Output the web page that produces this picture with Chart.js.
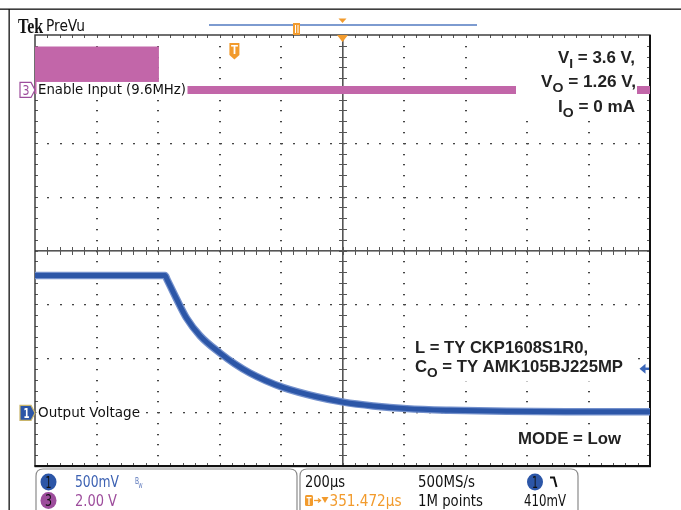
<!DOCTYPE html>
<html><head><meta charset="utf-8">
<script src="https://cdn.jsdelivr.net/npm/chart.js@4.4.1/dist/chart.umd.min.js"></script>
<style>html,body{margin:0;padding:0;background:#fff;}canvas{display:block;}</style>
</head><body>
<canvas id="c" width="681" height="510"></canvas>
<script>
// ---------------- data ----------------
// Channel 1: Output Voltage (V) vs time (µs from left edge of screen)
const ch1TimeUs = [0, 423, 430, 460, 493, 537, 602, 650, 699, 750, 808, 916, 1003, 1100, 1209, 1350, 1534, 1750, 2000];
const ch1Volts  = [1.275, 1.275, 1.235, 1.06, 0.88, 0.715, 0.555, 0.455, 0.37, 0.30, 0.235, 0.15, 0.10, 0.065, 0.04, 0.025, 0.015, 0.011, 0.01];
// Channel 3: Enable Input, 9.6 MHz burst envelope then idle low
const ch3BurstTimeUs = [0, 403];
const ch3BurstHighV  = [1.58, 1.58];
const ch3IdleTimeUs  = [0, 2000];
const ch3IdleV       = [0, 0];
// scope settings
const timePerDivUs = 200, ch1VoltsPerDiv = 0.5, ch3VoltsPerDiv = 2.0;
const ch1GroundDiv = -3.015, ch3GroundDiv = 2.98;
const triggerTimeUs = 648.5, triggerLevelV = 0.41, expansionTimeUs = 1000;
const statusLeft = [["1","500mV"],["3","2.00 V"]];
const statusMid = ["200µs","351.472µs","500MS/s","1M points","410mV"];

const pts = (xs, ys) => xs.map((x, i) => ({x, y: ys[i]}));

const BLUE = '#2c56a7', BLUE_L = '#7390cc', MAG = '#c266a9', PURP = '#9d4d9c', ORANGE = '#f29b2d';
const COND = '"Liberation Sans Narrow","DejaVu Sans Condensed","Arial Narrow",sans-serif';
const BOLD = '"Liberation Sans",Arial,sans-serif';

function fitText(c, txt, x, y, w, font, color, align) {
  c.save(); c.font = font; const m = c.measureText(txt).width; const s = w / m;
  c.translate(align === 'right' ? x - w : (align === 'center' ? x - w / 2 : x), y); c.scale(s, 1);
  c.fillStyle = color; c.textAlign = 'left'; c.textBaseline = 'alphabetic'; c.fillText(txt, 0, 0); c.restore();
}
function rich(c, segs, x, y, w, align, color) {
  const base = 'bold 16.5px ' + BOLD, sub = 'bold 13.5px ' + BOLD;
  c.save(); let tw = 0;
  for (const s of segs) { c.font = s.sub ? sub : base; tw += c.measureText(s.t).width; }
  const sx = w / tw; c.translate(align === 'right' ? x - w : x, y); c.scale(sx, 1);
  c.fillStyle = color; c.textBaseline = 'alphabetic'; c.textAlign = 'left';
  let cx = 0;
  for (const s of segs) { c.font = s.sub ? sub : base; c.fillText(s.t, cx, s.sub ? 5 : 0); cx += c.measureText(s.t).width; }
  c.restore();
}
function rrect(c, x, y, w, h, r) {
  c.beginPath(); c.moveTo(x + r, y); c.lineTo(x + w - r, y); c.quadraticCurveTo(x + w, y, x + w, y + r);
  c.lineTo(x + w, y + h - r); c.quadraticCurveTo(x + w, y + h, x + w - r, y + h); c.lineTo(x + r, y + h);
  c.quadraticCurveTo(x, y + h, x, y + h - r); c.lineTo(x, y + r); c.quadraticCurveTo(x, y, x + r, y); c.closePath();
}

const scope = {
  id: 'scope',
  beforeDraw(chart) {
    const c = chart.ctx; c.save();
    c.fillStyle = '#fff'; c.fillRect(0, 0, chart.width, chart.height);
    c.fillStyle = '#111'; c.fillRect(0, 8.5, chart.width, 1.3); c.fillRect(8.5, 9, 1.3, chart.height - 9);
    c.restore();
  },
  beforeDatasetsDraw(chart) {
    const c = chart.ctx, a = chart.chartArea, X = chart.scales.x, G = chart.scales.g;
    const px = d => Math.round(X.getPixelForValue(d * timePerDivUs));
    const py = d => Math.round(G.getPixelForValue(d));
    c.save();
    c.fillStyle = '#444';
    for (let i = 1; i < 10; i++) { if (i === 5) continue; const x = px(i);
      for (let k = 1; k < 40; k++) c.fillRect(x - 1, py(-4 + k * 0.2), 2, 1.3); }
    for (let j = -3; j <= 3; j++) { if (j === 0) continue; const y = py(j);
      for (let k = 1; k < 50; k++) c.fillRect(px(k * 0.2), y, 2, 1.3); }
    const xc = px(5), yc = py(0);
    c.fillStyle = '#555';
    c.fillRect(xc - 1, a.top, 1.6, a.bottom - a.top);
    c.fillRect(a.left, yc - 1, a.right - a.left, 1.6);
    for (let k = 1; k < 40; k++) { const y = py(-4 + k * 0.2); c.fillRect(xc - 4, y, 8, 1); c.fillRect(a.left, y, 3, 1); c.fillRect(a.right - 3, y, 3, 1); }
    for (let k = 1; k < 50; k++) { const x = px(k * 0.2); c.fillRect(x, yc - 4, 1, 8); c.fillRect(x, a.top, 1, 3); c.fillRect(x, a.bottom - 3, 1, 3); }
    c.strokeStyle = '#333'; c.lineWidth = 1.4; c.strokeRect(a.left, a.top, a.right - a.left, a.bottom - a.top);
    c.fillStyle = '#111'; c.fillRect(a.left - 0.5, a.bottom - 1, a.right - a.left + 1.5, 2.2); c.fillRect(a.right - 1, a.top, 2, a.bottom - a.top);
    c.restore();
  },
  afterDatasetsDraw(chart) {
    const c = chart.ctx, a = chart.chartArea, X = chart.scales.x, Y1 = chart.scales.y1, Y3 = chart.scales.y3;
    c.save();
    // white boxes behind annotations
    c.fillStyle = '#fff';
    const g3 = Y3.getPixelForValue(0), g1 = Y1.getPixelForValue(0);
    c.fillRect(36.5, g3 - 8, 151, 16);
    c.fillRect(36.5, g1 - 9, 105, 17);
    c.fillRect(516, 41, 121, 78);
    c.fillRect(411, 337, 222, 44);
    c.fillRect(514, 429, 110, 19);
    // channel markers
    c.beginPath(); c.moveTo(20, g3 - 7.5); c.lineTo(31, g3 - 7.5); c.lineTo(35, g3); c.lineTo(31, g3 + 7.5); c.lineTo(20, g3 + 7.5); c.closePath();
    c.fillStyle = '#fff'; c.fill(); c.strokeStyle = PURP; c.lineWidth = 1.2; c.stroke();
    fitText(c, '3', 22.5, g3 + 5, 7, '14px ' + COND, PURP);
    c.beginPath(); c.moveTo(20, g1 - 7.5); c.lineTo(31, g1 - 7.5); c.lineTo(35, g1); c.lineTo(31, g1 + 7.5); c.lineTo(20, g1 + 7.5); c.closePath();
    c.fillStyle = BLUE; c.fill(); c.strokeStyle = '#c9b56a'; c.lineWidth = 1.2; c.stroke();
    fitText(c, '1', 23.5, g1 + 5, 6, 'bold 14px ' + COND, '#fff');
    fitText(c, 'Enable Input (9.6MHz)', 38, g3 + 4.5, 148, '14px ' + COND, '#111');
    fitText(c, 'Output Voltage', 38, g1 + 4, 102, '14px ' + COND, '#111');
    // annotations
    rich(c, [{t: 'V'}, {t: 'I', sub: 1}, {t: ' = 3.6 V,'}], 635, 63.3, 77, 'right', '#222');
    rich(c, [{t: 'V'}, {t: 'O', sub: 1}, {t: ' = 1.26 V,'}], 636, 87.3, 95, 'right', '#222');
    rich(c, [{t: 'I'}, {t: 'O', sub: 1}, {t: ' = 0 mA'}], 635, 111.7, 77, 'right', '#222');
    rich(c, [{t: 'L = TY CKP1608S1R0,'}], 415, 353.3, 173, 'left', '#222');
    rich(c, [{t: 'C'}, {t: 'O', sub: 1}, {t: ' = TY AMK105BJ225MP'}], 415, 371.7, 208, 'left', '#222');
    rich(c, [{t: 'MODE = Low'}], 518, 444.3, 103, 'left', '#222');
    // header
    fitText(c, 'Tek', 18, 33, 25, 'bold 21px "Liberation Serif",serif', '#111');
    fitText(c, 'PreVu', 46, 31, 39, '15px ' + COND, '#111');
    c.strokeStyle = '#7d9bd0'; c.lineWidth = 2; c.beginPath(); c.moveTo(209, 25); c.lineTo(477, 25); c.stroke();
    c.fillStyle = ORANGE; c.fillRect(293, 23, 7, 12);
    c.fillStyle = '#fff'; c.fillRect(295, 25, 1, 8); c.fillRect(297.5, 25, 1, 8);
    const xe = X.getPixelForValue(expansionTimeUs);
    c.fillStyle = ORANGE;
    c.beginPath(); c.moveTo(xe - 4, 18.5); c.lineTo(xe + 4, 18.5); c.lineTo(xe, 23); c.closePath(); c.fill();
    c.beginPath(); c.moveTo(xe - 5.5, a.top); c.lineTo(xe + 5.5, a.top); c.lineTo(xe, a.top + 7); c.closePath(); c.fill();
    const xt = X.getPixelForValue(triggerTimeUs);
    c.beginPath(); c.moveTo(xt - 5, 43); c.lineTo(xt + 5, 43); c.lineTo(xt + 5, 55); c.lineTo(xt, 59.5); c.lineTo(xt - 5, 55); c.closePath(); c.fill();
    fitText(c, 'T', xt, 54, 7, 'bold 12px ' + BOLD, '#fff', 'center');
    // trigger level arrow
    const yl = Y1.getPixelForValue(triggerLevelV);
    c.fillStyle = '#3b66b8'; c.beginPath(); c.moveTo(639.5, yl); c.lineTo(645.5, yl - 5); c.lineTo(645.5, yl + 5); c.closePath(); c.fill();
    c.fillRect(644, yl - 1.2, 5, 2.4);
    // status boxes
    c.strokeStyle = '#8a8a8a'; c.lineWidth = 1.2;
    rrect(c, 36, 469, 261, 48, 7); c.stroke();
    rrect(c, 300, 469, 278, 48, 7); c.stroke();
    c.fillStyle = '#fff'; c.fillRect(30, 510, 560, 10);
    c.fillStyle = BLUE; c.beginPath(); c.ellipse(48.5, 482, 8, 8.5, 0, 0, Math.PI * 2); c.fill();
    c.fillStyle = PURP; c.beginPath(); c.ellipse(48.5, 500.5, 8, 8.5, 0, 0, Math.PI * 2); c.fill();
    fitText(c, statusLeft[0][0], 48.5, 487.5, 6, '15px ' + COND, '#111', 'center');
    fitText(c, statusLeft[1][0], 48.5, 506, 7, '15px ' + COND, '#111', 'center');
    fitText(c, statusLeft[0][1], 75, 487, 44, '15px ' + COND, '#3d62b3');
    fitText(c, statusLeft[1][1], 75, 506, 42, '15px ' + COND, PURP);
    fitText(c, 'B', 135, 484, 4, '8px ' + COND, '#5572b8');
    fitText(c, 'W', 138.5, 488, 4, '7px ' + COND, '#5572b8');
    fitText(c, statusMid[0], 305, 487, 40, '15px ' + COND, '#111');
    c.fillStyle = ORANGE; rrect(c, 305, 495, 8, 11, 1.5); c.fill();
    fitText(c, 'T', 309, 504.5, 5, 'bold 10px ' + BOLD, '#fff', 'center');
    c.strokeStyle = ORANGE; c.lineWidth = 1.3; c.beginPath(); c.moveTo(314, 500.5); c.lineTo(320, 500.5); c.stroke();
    c.beginPath(); c.moveTo(318, 498.5); c.lineTo(320.5, 500.5); c.lineTo(318, 502.5); c.stroke();
    c.fillStyle = ORANGE; c.beginPath(); c.moveTo(321.5, 497); c.lineTo(328.5, 497); c.lineTo(325, 503); c.closePath(); c.fill();
    fitText(c, statusMid[1], 329.5, 506, 72, '15px ' + COND, ORANGE);
    fitText(c, statusMid[2], 418, 487, 57, '15px ' + COND, '#111');
    fitText(c, statusMid[3], 418, 506, 65, '15px ' + COND, '#111');
    c.fillStyle = BLUE; c.beginPath(); c.ellipse(535, 482, 8, 8.5, 0, 0, Math.PI * 2); c.fill();
    fitText(c, '1', 535, 487.5, 6, '15px ' + COND, '#111', 'center');
    c.strokeStyle = '#111'; c.lineWidth = 2; c.beginPath(); c.moveTo(550, 477.5); c.lineTo(554, 477.5); c.lineTo(556.5, 487); c.stroke();
    fitText(c, statusMid[4], 524, 506, 42, '15px ' + COND, '#111');
    c.restore();
  }
};

new Chart(document.getElementById('c'), {
  type: 'line',
  data: {
    datasets: [
      { order: 4, data: pts(ch3BurstTimeUs, ch3BurstHighV), yAxisID: 'y3', borderColor: MAG, backgroundColor: MAG, borderWidth: 2, fill: {value: 0}, pointRadius: 0 },
      { order: 3, data: pts(ch3IdleTimeUs, ch3IdleV), yAxisID: 'y3', borderColor: MAG, borderWidth: 8, fill: false, pointRadius: 0, borderCapStyle: 'butt' },
      { order: 2, data: pts(ch1TimeUs, ch1Volts), yAxisID: 'y1', borderColor: BLUE_L, borderWidth: 7.5, fill: false, pointRadius: 0, cubicInterpolationMode: 'monotone' },
      { order: 1, data: pts(ch1TimeUs, ch1Volts), yAxisID: 'y1', borderColor: BLUE, borderWidth: 5, fill: false, pointRadius: 0, cubicInterpolationMode: 'monotone' }
    ]
  },
  options: {
    responsive: false, animation: false, devicePixelRatio: 1,
    layout: { padding: { left: 35, right: 31, top: 35, bottom: 44 } },
    plugins: { legend: { display: false }, tooltip: { enabled: false } },
    scales: {
      x: { type: 'linear', min: 0, max: 10 * timePerDivUs, display: false },
      y1: { axis: 'y', type: 'linear', min: (-4 - ch1GroundDiv) * ch1VoltsPerDiv, max: (4 - ch1GroundDiv) * ch1VoltsPerDiv, display: false },
      y3: { axis: 'y', type: 'linear', min: (-4 - ch3GroundDiv) * ch3VoltsPerDiv, max: (4 - ch3GroundDiv) * ch3VoltsPerDiv, display: false },
      g: { axis: 'y', type: 'linear', min: -4, max: 4, display: false }
    }
  },
  plugins: [scope]
});
</script>
</body></html>
